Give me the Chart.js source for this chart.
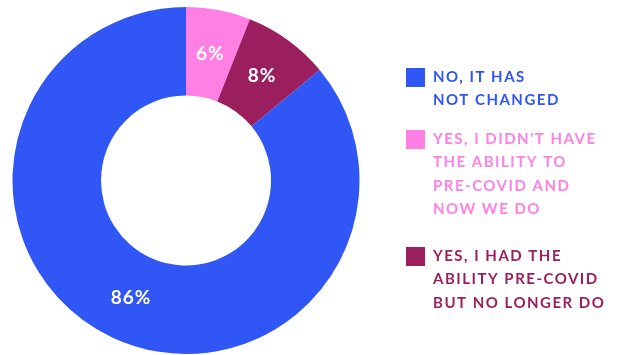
<!DOCTYPE html>
<html>
<head>
<meta charset="utf-8">
<script src="https://cdn.jsdelivr.net/npm/chart.js@4"></script>
<style>
  html, body { margin: 0; padding: 0; background: #fff; }
  #wrap { width: 619px; height: 355px; position: relative; }
</style>
</head>
<body>
<div id="wrap"><canvas id="myChart" width="619" height="355"></canvas></div>
<script>
var labels = [
  ["YES, I DIDN'T HAVE", "THE ABILITY TO", "PRE-COVID AND", "NOW WE DO"],
  ["YES, I HAD THE", "ABILITY PRE-COVID", "BUT NO LONGER DO"],
  ["NO, IT HAS", "NOT CHANGED"]
];
var values = [6, 8, 86];
var colors = ["#FF7FE5", "#9B1F5E", "#3056F5"];
// legend order differs from slice order
var legendOrder = [2, 0, 1];
var legendBoxY = [68, 130, 247];

var FONT = "Lato, 'Noto Sans', sans-serif";

var sliceLabels = {
  id: 'sliceLabels',
  afterDatasetsDraw: function(chart) {
    var ctx = chart.ctx;
    var meta = chart.getDatasetMeta(0);
    ctx.save();
    ctx.fillStyle = '#fff';
    ctx.font = "bold 19px " + FONT;
    ctx.letterSpacing = '1px';
    ctx.textAlign = 'center';
    ctx.textBaseline = 'middle';
    meta.data.forEach(function(arc, i) {
      var p = arc.tooltipPosition();
      ctx.fillText(values[i] + '%', p.x, p.y);
    });
    ctx.restore();
  }
};

var sideLegend = {
  id: 'sideLegend',
  afterDraw: function(chart) {
    var ctx = chart.ctx;
    ctx.save();
    ctx.font = "bold 15px " + FONT;
    ctx.letterSpacing = '1.5px';
    ctx.textBaseline = 'middle';
    legendOrder.forEach(function(idx, k) {
      var y0 = legendBoxY[k];
      ctx.fillStyle = colors[idx];
      ctx.fillRect(406, y0, 19, 19);
      labels[idx].forEach(function(line, j) {
        ctx.fillText(line, 433, y0 + 9 + j * 23.5);
      });
    });
    ctx.restore();
  }
};

var ctx = document.getElementById("myChart");
new Chart(ctx, {
  type: 'doughnut',
  data: {
    labels: labels.map(function(l){ return l.join(' '); }),
    datasets: [{
      data: values,
      backgroundColor: colors,
      borderWidth: 0
    }]
  },
  options: {
    responsive: false,
    animation: false,
    cutout: '49%',
    layout: { padding: { left: 12, right: 259, top: 7, bottom: 1 } },
    plugins: {
      legend: { display: false },
      tooltip: { enabled: false }
    }
  },
  plugins: [sliceLabels, sideLegend]
});
</script>
</body>
</html>
